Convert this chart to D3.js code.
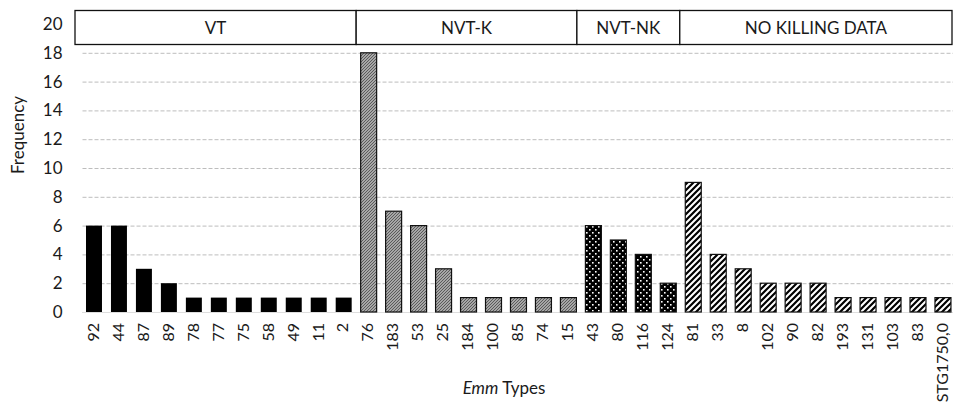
<!DOCTYPE html>
<html><head><meta charset="utf-8">
<script src="https://cdn.jsdelivr.net/npm/d3@7"></script>
<style>body{margin:0;background:#fff}svg{display:block}text{font-family:Lato,"Open Sans",sans-serif}</style>
</head><body>
<svg id="c" width="953" height="414"></svg>
<script>
const categories = ["92","44","87","89","78","77","75","58","49","11","2",
  "76","183","53","25","184","100","85","74","15",
  "43","80","116","124",
  "81","33","8","102","90","82","193","131","103","83","STG1750,0"];
const values = [6,6,3,2,1,1,1,1,1,1,1,
  18,7,6,3,1,1,1,1,1,
  6,5,4,2,
  9,4,3,2,2,2,1,1,1,1,1];
const groupNames = ["VT","NVT-K","NVT-NK","NO KILLING DATA"];
const groupSizes = [11,9,4,11];
const yTicks = [0,2,4,6,8,10,12,14,16,18,20];

const svg = d3.select("#c");
const defs = svg.append("defs");
// NVT-K fine grey hatch
let p = defs.append("pattern").attr("id","pK").attr("patternUnits","userSpaceOnUse").attr("width",3).attr("height",3);
p.append("rect").attr("width",3).attr("height",3).attr("fill","#c8c8c8");
p.append("path").attr("d","M0,3 L3,0 M-1,1 L1,-1 M2,4 L4,2").attr("stroke","#555").attr("stroke-width",1.1);
// NVT-NK black with white dots
p = defs.append("pattern").attr("id","pNK").attr("patternUnits","userSpaceOnUse").attr("width",6).attr("height",6);
p.append("rect").attr("width",6).attr("height",6).attr("fill","#000");
p.append("rect").attr("x",1).attr("y",1).attr("width",1.6).attr("height",1.6).attr("fill","#fff");
p.append("rect").attr("x",4).attr("y",4).attr("width",1.6).attr("height",1.6).attr("fill","#fff");
// No killing data: diagonal stripes
p = defs.append("pattern").attr("id","pND").attr("patternUnits","userSpaceOnUse").attr("width",6).attr("height",6);
p.append("rect").attr("width",6).attr("height",6).attr("fill","#fff");
p.append("path").attr("d","M-1,7 L7,-1 M-4,4 L4,-4 M2,10 L10,2").attr("stroke","#000").attr("stroke-width",2.2);

const fills = ["#000","url(#pK)","url(#pNK)","url(#pND)"];
const groupOf = [];
groupSizes.forEach((n,i)=>{for(let k=0;k<n;k++) groupOf.push(i);});

const left = 81.5, step = 24.97;
const x = d3.scaleBand().domain(categories).range([left, left + step*categories.length]).paddingInner(0.36).paddingOuter(0.18);
const y = d3.scaleLinear().domain([0,20]).range([312,24]);

// gridlines
svg.append("g").selectAll("line").data(yTicks.filter(t=>t<20)).join("line")
  .attr("x1",left+1).attr("x2",953).attr("y1",d=>y(d)+0.5).attr("y2",d=>y(d)+0.5)
  .attr("stroke","#bdbdbd").attr("stroke-width",1).attr("stroke-dasharray",d=>d===0?"1,1":"4,2");

// y axis labels
const ya = svg.append("g").attr("transform",`translate(${left+1},0)`)
  .call(d3.axisLeft(y).tickValues(yTicks).tickSize(0).tickPadding(20));
ya.select(".domain").remove();
ya.selectAll("text").attr("font-size",17).attr("fill","#1a1a1a").attr("font-family","Lato,sans-serif");

// bars
svg.append("g").selectAll("rect").data(categories).join("rect")
  .attr("x",d=>x(d)).attr("width",x.bandwidth())
  .attr("y",(d,i)=>y(values[i])).attr("height",(d,i)=>y(0)-y(values[i]))
  .attr("fill",(d,i)=>fills[groupOf[i]])
  .attr("stroke","#111").attr("stroke-width",(d,i)=>groupOf[i]===0?0:1.2);

// x axis labels
const xa = svg.append("g").attr("transform",`translate(0,${y(0)})`)
  .call(d3.axisBottom(x).tickSize(0).tickPadding(0));
xa.select(".domain").remove();
xa.selectAll("text").attr("font-size",16).attr("fill","#1a1a1a")
  .attr("transform","rotate(-90)").attr("text-anchor","end")
  .attr("x",-11).attr("y",0).attr("dy","0.3em");

// header boxes
let start = 0;
const hdr = svg.append("g");
const shift = [0,0,-4,-1];
groupSizes.forEach((n,i)=>{
  const a = i===0 ? 75 : x(categories[start]) - x.step()*x.paddingInner()/2 + shift[i];
  const last = categories[start+n-1];
  const b = i===groupSizes.length-1 ? 952 : x(last) + x.bandwidth() + x.step()*x.paddingInner()/2 + shift[i+1];
  hdr.append("rect").attr("x",a).attr("y",10.5).attr("width",b-a).attr("height",34)
    .attr("fill","#fff").attr("stroke","#111").attr("stroke-width",1.3);
  hdr.append("text").attr("x",(a+b)/2).attr("y",28).attr("dy","0.35em").attr("text-anchor","middle")
    .attr("font-size",17).attr("fill","#1a1a1a").text(groupNames[i]);
  start += n;
});

// axis titles
svg.append("text").attr("transform","translate(18,135) rotate(-90)").attr("text-anchor","middle")
  .attr("dy","0.35em").attr("font-size",17).attr("fill","#1a1a1a").text("Frequency");
const xt = svg.append("text").attr("x",504).attr("y",388).attr("dy","0.35em").attr("text-anchor","middle")
  .attr("font-size",17).attr("fill","#1a1a1a");
xt.append("tspan").attr("font-style","italic").text("Emm");
xt.append("tspan").text(" Types");
</script>
</body></html>
